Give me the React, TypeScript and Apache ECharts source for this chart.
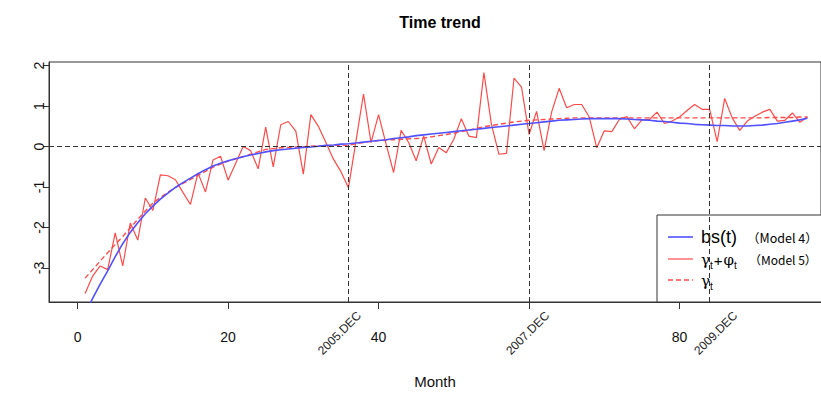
import React, { useEffect, useRef } from "react";
import * as echarts from "echarts";

// Month index
const months = [
  1, 2, 3, 4, 5, 6, 7, 8, 9, 10, 11, 12, 13, 14, 15, 16, 17, 18, 19, 20,
  21, 22, 23, 24, 25, 26, 27, 28, 29, 30, 31, 32, 33, 34, 35, 36, 37, 38, 39, 40,
  41, 42, 43, 44, 45, 46, 47, 48, 49, 50, 51, 52, 53, 54, 55, 56, 57, 58, 59, 60,
  61, 62, 63, 64, 65, 66, 67, 68, 69, 70, 71, 72, 73, 74, 75, 76, 77, 78, 79, 80,
  81, 82, 83, 84, 85, 86, 87, 88, 89, 90, 91, 92, 93, 94, 95, 96, 97,
];

// gamma_t + phi_t (Model 5)
const model5 = [
  -3.63, -3.2, -2.95, -3.04, -2.13, -2.95, -1.89, -2.31, -1.27, -1.58,
  -0.7, -0.72, -0.82, -1.13, -1.43, -0.65, -1.12, -0.33, -0.24, -0.83,
  -0.42, 0.0, -0.1, -0.55, 0.48, -0.5, 0.54, 0.62, 0.38, -0.68,
  0.79, 0.5, 0.1, -0.31, -0.62, -1.02, 0.14, 1.3, 0.1, 0.79,
  0.06, -0.64, 0.4, 0.1, -0.35, 0.26, -0.43, -0.02, -0.15, 0.18,
  0.69, 0.26, 0.22, 1.83, 0.55, -0.19, -0.17, 1.69, 1.47, 0.3,
  0.87, -0.1, 0.85, 1.44, 0.96, 1.04, 1.04, 0.73, -0.03, 0.39,
  0.37, 0.67, 0.74, 0.44, 0.66, 0.67, 0.85, 0.57, 0.63, 0.73,
  0.89, 1.04, 0.92, 0.92, 0.12, 1.19, 0.71, 0.4, 0.63, 0.75,
  0.85, 0.92, 0.63, 0.65, 0.83, 0.6, 0.73,
];

// bs(t) (Model 4)
const model4 = [
  -4.15, -3.75, -3.4, -3.07, -2.72, -2.4, -2.12, -1.88, -1.66, -1.47,
  -1.3, -1.15, -1.01, -0.89, -0.78, -0.67, -0.57, -0.48, -0.41, -0.35,
  -0.3, -0.25, -0.21, -0.17, -0.13, -0.1, -0.08, -0.06, -0.04, -0.02,
  -0.01, 0.01, 0.03, 0.04, 0.06, 0.07, 0.09, 0.11, 0.13, 0.15,
  0.17, 0.2, 0.22, 0.24, 0.27, 0.29, 0.31, 0.33, 0.35, 0.37,
  0.39, 0.41, 0.43, 0.45, 0.47, 0.49, 0.51, 0.53, 0.55, 0.57,
  0.59, 0.61, 0.63, 0.65, 0.66, 0.67, 0.68, 0.69, 0.69, 0.69,
  0.69, 0.69, 0.68, 0.67, 0.66, 0.65, 0.63, 0.62, 0.6, 0.58,
  0.57, 0.55, 0.54, 0.53, 0.52, 0.52, 0.51, 0.51, 0.51, 0.52,
  0.53, 0.55, 0.57, 0.6, 0.63, 0.66, 0.7,
];

// gamma_t
const gamma = [
  -3.25, -3.04, -2.83, -2.62, -2.42, -2.22, -2.01, -1.8, -1.59, -1.4,
  -1.26, -1.13, -1.01, -0.91, -0.81, -0.71, -0.61, -0.51, -0.43, -0.36,
  -0.3, -0.25, -0.19, -0.13, -0.07, -0.05, -0.03, -0.02, -0.01, 0.0,
  0.01, 0.02, 0.02, 0.03, 0.03, 0.03, 0.07, 0.1, 0.13, 0.15,
  0.16, 0.17, 0.18, 0.19, 0.2, 0.21, 0.24, 0.27, 0.3, 0.33,
  0.37, 0.41, 0.45, 0.49, 0.52, 0.55, 0.58, 0.61, 0.63, 0.65,
  0.66, 0.67, 0.68, 0.69, 0.7, 0.71, 0.71, 0.71, 0.71, 0.71,
  0.71, 0.71, 0.71, 0.71, 0.71, 0.71, 0.71, 0.71, 0.71, 0.71,
  0.71, 0.71, 0.71, 0.71, 0.71, 0.71, 0.71, 0.71, 0.71, 0.71,
  0.71, 0.72, 0.72, 0.72, 0.72, 0.73, 0.73,
];

const xTicks = [0, 20, 40, 60, 80];
const xTickLabels = [0, 20, 40, 80];
const yTicks = [-3, -2, -1, 0, 1, 2];
const decMonths = [36, 60, 84]; // vertical reference lines
const decLabelMonths = [36, 61, 86]; // where the rotated labels sit
const decLabels = ["2005.DEC", "2007.DEC", "2009.DEC"];

const FONT = "'Liberation Sans', Arial, sans-serif";
const CJK = "'Noto Sans CJK JP', sans-serif";
const SERIF = "'DejaVu Serif', serif";
const BLUE = "#5050FF";
const RED = "#FF4A4A";

export default function App() {
  const ref = useRef<HTMLDivElement>(null);
  useEffect(() => {
    if (!ref.current) return;
    const chart = echarts.init(ref.current, undefined, { renderer: "svg" });
    const pairs = (vals: number[]) => months.map((m, i) => [m, vals[i]]);
    const dash = { type: [5, 3] as any, color: "#333", width: 1 };
    const subRich = {
      g: { fontFamily: SERIF, fontSize: 15, lineHeight: 20, verticalAlign: "middle", color: "#000" },
      s: { fontFamily: FONT, fontSize: 10, lineHeight: 11, verticalAlign: "bottom", color: "#000" },
      p: { fontFamily: FONT, fontSize: 15, lineHeight: 20, verticalAlign: "middle", color: "#000", padding: [0, 1, 0, 1] },
    };
    chart.setOption({
      animation: false,
      backgroundColor: "#fff",
      title: {
        text: "Time trend",
        left: 435,
        top: 9,
        textAlign: "center",
        textStyle: { fontFamily: FONT, fontSize: 16, fontWeight: "bold", color: "#000" },
      },
      grid: {
        left: 49,
        right: -1,
        top: 62,
        bottom: 92,
        show: true,
        borderColor: "#333",
        borderWidth: 1,
        backgroundColor: "transparent",
      },
      xAxis: [
        {
          type: "value",
          min: -3.8,
          max: 98.8,
          position: "bottom",
          axisLine: { show: true, onZero: false, lineStyle: { color: "#333" } },
          axisTick: { show: true, customValues: xTicks, length: 7, lineStyle: { color: "#333" } },
          axisLabel: {
            customValues: xTickLabels,
            fontSize: 14,
            fontFamily: FONT,
            color: "#111",
            margin: 28,
          },
          splitLine: { show: false },
          name: "Month",
          nameLocation: "middle",
          nameGap: 72,
          nameTextStyle: { fontFamily: FONT, fontSize: 15, color: "#111" },
        },
        {
          type: "value",
          min: -3.8,
          max: 98.8,
          position: "bottom",
          axisLine: { show: false, onZero: false },
          axisTick: { show: false },
          axisLabel: {
            customValues: decLabelMonths,
            rotate: 45,
            fontSize: 12,
            fontFamily: FONT,
            color: "#222",
            margin: 1,
            verticalAlign: "top",
            padding: [9, 0, 0, 0],
            formatter: (v: number) => decLabels[decLabelMonths.indexOf(v)] ?? "",
          },
          splitLine: { show: false },
        },
      ],
      yAxis: {
        type: "value",
        min: -3.84,
        max: 2.09,
        axisLine: { show: true, onZero: false, lineStyle: { color: "#333" } },
        axisTick: { show: true, customValues: yTicks, length: 6, lineStyle: { color: "#333" } },
        axisLabel: {
          customValues: yTicks,
          rotate: 90,
          fontSize: 14,
          fontFamily: FONT,
          color: "#111",
          margin: 3,
        },
        splitLine: { show: false },
      },
      series: [
        {
          type: "line",
          name: "gamma_t + phi_t",
          data: pairs(model5),
          showSymbol: false,
          lineStyle: { color: RED, width: 1.2 },
          z: 2,
          markLine: {
            silent: true,
            symbol: ["none", "none"],
            label: { show: false },
            lineStyle: dash,
            data: [...decMonths.map((m) => ({ xAxis: m })), { yAxis: 0 }],
          },
        },
        {
          type: "line",
          name: "gamma_t",
          data: pairs(gamma),
          showSymbol: false,
          lineStyle: { color: RED, width: 1.4, type: [5, 3] },
          z: 3,
        },
        {
          type: "line",
          name: "bs(t)",
          data: pairs(model4),
          showSymbol: false,
          lineStyle: { color: BLUE, width: 1.6 },
          z: 4,
        },
      ],
      graphic: [
        {
          type: "group",
          z: 100,
          children: [
            {
              type: "rect",
              shape: { x: 657, y: 215, width: 200, height: 87 },
              style: { fill: "#fff", stroke: "#333", lineWidth: 1 },
            },
            { type: "line", shape: { x1: 668, y1: 237, x2: 693, y2: 237 }, style: { stroke: BLUE, lineWidth: 1.6 } },
            { type: "line", shape: { x1: 668, y1: 259, x2: 693, y2: 259 }, style: { stroke: RED, lineWidth: 1.2 } },
            { type: "line", shape: { x1: 668, y1: 280, x2: 693, y2: 280 }, style: { stroke: RED, lineWidth: 1.4, lineDash: [5, 3] } },
            { type: "text", x: 701, y: 237, style: { text: "bs(t)", fontFamily: FONT, fontSize: 18, fill: "#000", verticalAlign: "middle" } },
            { type: "text", x: 747, y: 237, style: { text: "（Model 4）", fontFamily: CJK, fontSize: 12.5, fill: "#000", verticalAlign: "middle" } },
            {
              type: "text",
              x: 701,
              y: 260,
              style: { text: "{g|γ}{s|t}{p|+}{g|φ}{s|t}", rich: subRich, verticalAlign: "middle", fill: "#000" },
            },
            { type: "text", x: 749, y: 259, style: { text: "（Model 5）", fontFamily: CJK, fontSize: 12, fill: "#000", verticalAlign: "middle" } },
            {
              type: "text",
              x: 701,
              y: 281,
              style: { text: "{g|γ}{s|t}", rich: subRich, verticalAlign: "middle", fill: "#000" },
            },
          ],
        },
      ],
    });
    return () => chart.dispose();
  }, []);
  return (
    <div
      ref={ref}
      style={{ position: "fixed", left: 0, top: 0, width: 821, height: 394 }}
    />
  );
}
